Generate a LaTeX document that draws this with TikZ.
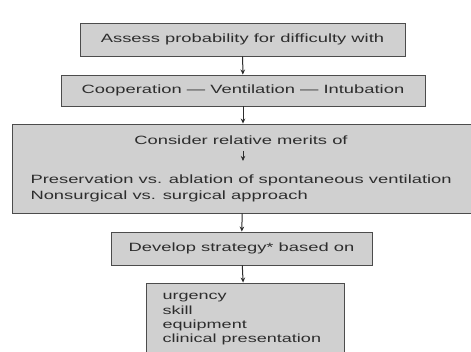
\documentclass[tikz,border=0pt]{standalone}
\usepackage{fontspec}
\setmainfont[FakeStretch=1.53]{Liberation Sans}
\usetikzlibrary{arrows.meta,positioning,calc}
\definecolor{boxgray}{RGB}{208,208,208}
\definecolor{inkgray}{RGB}{45,45,45}

\begin{document}
\begin{tikzpicture}[
    x=1pt, y=-1pt,
    every node/.style={font=\fontsize{12}{16}\selectfont, text=inkgray},
    box/.style={draw=inkgray!85, line width=0.9pt, fill=boxgray, inner sep=0pt},
    flow/.style={-{Stealth[length=5pt,width=4.5pt]}, line width=1pt, draw=inkgray},
]
\clip (0,0) rectangle (471,352);
\fill[white] (0,0) rectangle (471,352);

\node[box, minimum width=325pt, minimum height=33pt] (assess) at (242.5,39.5) {Assess probability for difficulty with};
\node[box, minimum width=364pt, minimum height=31pt] (coop) at (243,90.5) {Cooperation --- Ventilation --- Intubation};
\node[box, minimum width=462pt, minimum height=89pt] (merits) at (243,168.5) {};
\node (consider) at (241,140) {Consider relative merits of};
\node[align=left, anchor=west] (approach) at (27,188) {Preservation vs. ablation of spontaneous ventilation\\Nonsurgical vs. surgical approach};
\node[box, minimum width=261pt, minimum height=33pt] (strategy) at (241.5,248.5) {Develop strategy* based on};
\node[box, minimum width=198pt, minimum height=80pt] (factors) at (245,323) {};
\node[align=left, anchor=north west, font=\fontsize{11.8}{14.3}\selectfont] (factorlist) at (159,290) {urgency\\skill\\equipment\\clinical presentation};

\draw[flow] (assess) -- (coop);
\draw[flow] (coop) -- (merits);
\draw[flow] (consider.south -| coop) ++(0,3) coordinate (innertop) -- ++(0,10) coordinate (innerend);
\draw[flow] (merits) -- (strategy);
\draw[flow] (strategy) -- (factors);
\end{tikzpicture}
\end{document}
